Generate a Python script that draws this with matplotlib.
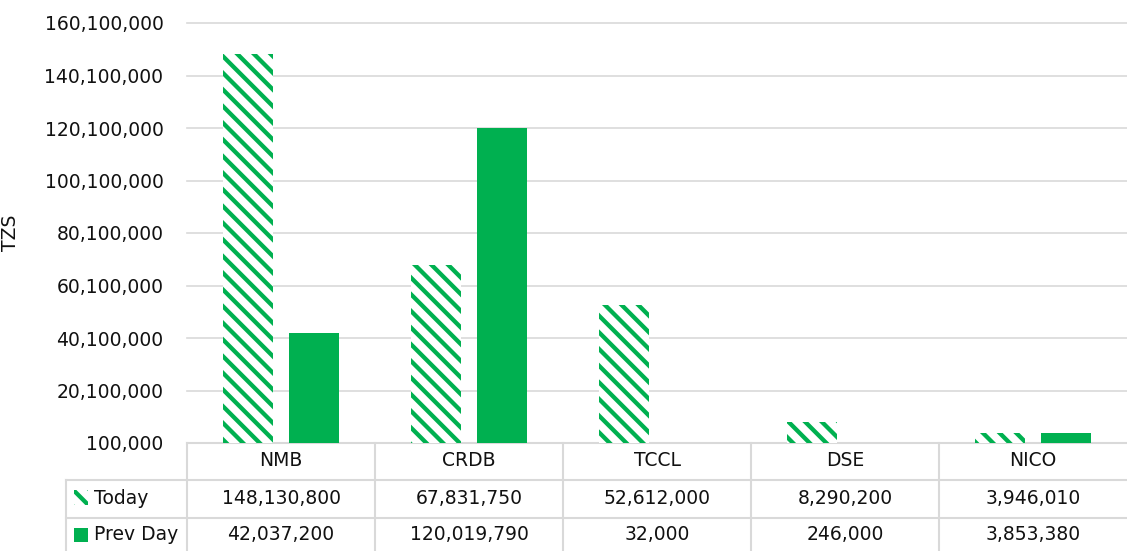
import numpy as np
import matplotlib
matplotlib.use("Agg")
import matplotlib.pyplot as plt
from matplotlib.patches import Rectangle

# ─── Data ─────────────────────────────────────────────────────────────────────
companies = ["NMB", "CRDB", "TCCL", "DSE", "NICO"]
today     = [148130800, 67831750, 52612000, 8290200, 3946010]
prev_day  = [42037200, 120019790, 32000, 246000, 3853380]
series    = ["Today", "Prev Day"]

GREEN = "#00B050"
GRID  = "#D9D9D9"
TXT   = "#111111"
FS    = 13.5
HATCH = "\\\\"

plt.rcParams["font.family"] = ["DejaVu Sans"]
plt.rcParams["hatch.linewidth"] = 3.1

fig = plt.figure(figsize=(11.27, 5.51), dpi=100)
ax = fig.add_axes([187 / 1127, 108 / 551, 940 / 1127, 420 / 551])

x = np.arange(len(companies))
w, off = 0.266, 0.178
ax.bar(x - off, today, w, facecolor="white", edgecolor=GREEN, hatch=HATCH,
       linewidth=0, zorder=3)
ax.bar(x + off, prev_day, w, color=GREEN, linewidth=0, zorder=3)

ymin, ymax = 100000, 160100000
ax.set_ylim(ymin, ymax)
ax.set_xlim(-0.5, len(companies) - 0.5)
ax.set_yticks(np.arange(ymin, ymax + 1, 20000000))
ax.set_yticklabels([f"{v:,.0f}" for v in ax.get_yticks()], fontsize=FS, color=TXT)
ax.tick_params(axis="y", length=0, pad=17)
ax.set_xticks([])
for gl in ax.get_yticks():
    ax.axhline(gl, color=GRID, linewidth=1.2, zorder=0, clip_on=False)
for s in ax.spines.values():
    s.set_visible(False)
ax.set_ylabel("TZS", fontsize=FS, color=TXT)
ax.yaxis.set_label_coords(-0.178, 0.5)

# ─── Data table ───────────────────────────────────────────────────────────────
tr = ax.get_xaxis_transform()
left_edge = -1.144
rows_y = [0.0, -0.088, -0.1786, -0.262]
line_kw = dict(color=GRID, linewidth=1.5, transform=tr, clip_on=False)

ax.plot([-0.5, len(companies) - 0.5], [0, 0], **line_kw)
for yy in rows_y[1:3]:
    ax.plot([left_edge, len(companies) - 0.5], [yy, yy], **line_kw)
ax.plot([left_edge, left_edge], [rows_y[1], rows_y[3]], **line_kw)
for b in np.arange(len(companies)) - 0.5:
    ax.plot([b, b], [0, rows_y[3]], **line_kw)

for i, c in enumerate(companies):
    ax.text(i, -0.0405, c, ha="center", va="center", fontsize=FS, color=TXT,
            transform=tr)
    ax.text(i, -0.131, f"{today[i]:,}", ha="center", va="center", fontsize=FS,
            color=TXT, transform=tr)
    ax.text(i, -0.219, f"{prev_day[i]:,}", ha="center", va="center", fontsize=FS,
            color=TXT, transform=tr)

# legend keys
ax.add_patch(Rectangle((-1.101, -0.148), 0.074, 0.036, transform=tr,
                       facecolor="white", edgecolor=GREEN, hatch=HATCH,
                       linewidth=0, clip_on=False))
ax.add_patch(Rectangle((-1.101, -0.236), 0.074, 0.034, transform=tr,
                       facecolor=GREEN, linewidth=0, clip_on=False))
ax.text(-0.995, -0.131, series[0], ha="left", va="center", fontsize=FS,
        color=TXT, transform=tr)
ax.text(-0.995, -0.219, series[1], ha="left", va="center", fontsize=FS,
        color=TXT, transform=tr)

fig.savefig("out.png", dpi=100)
